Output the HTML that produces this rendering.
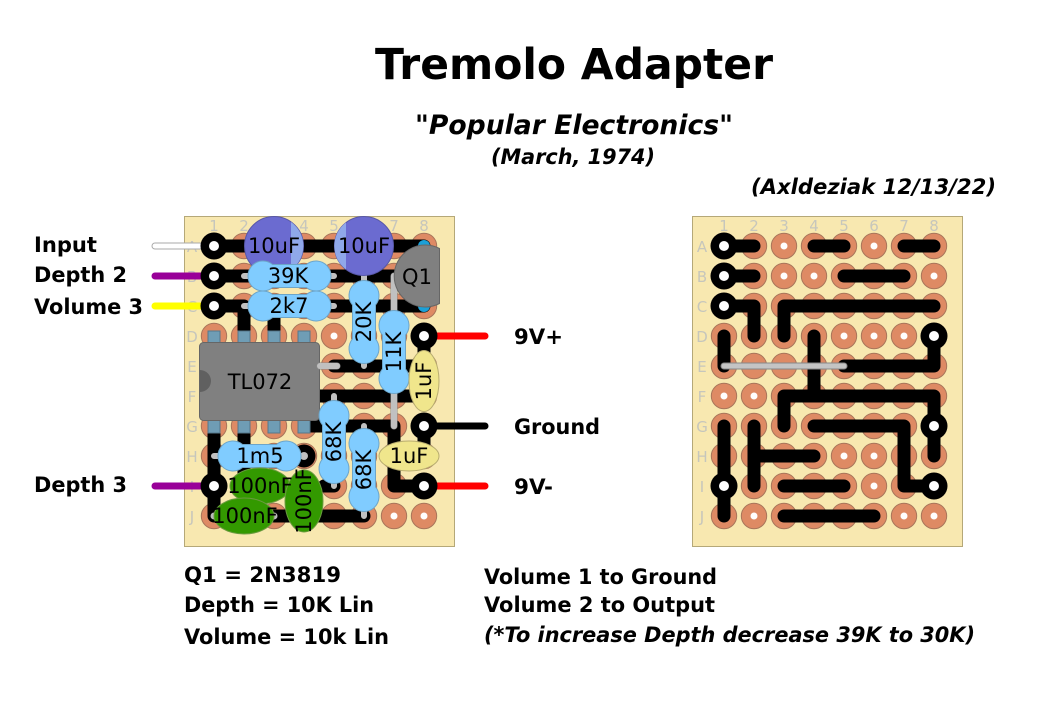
<!DOCTYPE html>
<html><head><meta charset="utf-8"><style>
html,body{margin:0;padding:0;background:#fff}
svg{display:block}
text{font-family:"DejaVu Sans",sans-serif;fill:#000}
.b{font-weight:bold;font-size:21px}
.bi{font-weight:bold;font-style:italic;font-size:21px}
.t{font-size:21px;text-anchor:middle}
text.g{font-size:15px;fill:#c6c6bc;text-anchor:middle}
.tr{fill:none;stroke:#000;stroke-width:13;stroke-linecap:round;stroke-linejoin:round}
.w{fill:none;stroke:#c0c0c0;stroke-width:6;stroke-linecap:round}
.wo{fill:none;stroke:#8a8a8a;stroke-width:7;stroke-linecap:round}
.r{fill:#80ccff;stroke:#6da5c8;stroke-width:1}
</style></head><body>
<svg width="1056" height="704" viewBox="0 0 1056 704" xmlns="http://www.w3.org/2000/svg">
<defs>
<pattern id="pads" x="199" y="231" width="30" height="30" patternUnits="userSpaceOnUse"><circle cx="15" cy="15" r="12.7" fill="#de8a64" stroke="#a8755a" stroke-width="1"/><circle cx="15" cy="15" r="3.5" fill="#fff"/></pattern>
<pattern id="pads2" x="709" y="231" width="30" height="30" patternUnits="userSpaceOnUse"><circle cx="15" cy="15" r="12.7" fill="#de8a64" stroke="#a8755a" stroke-width="1"/><circle cx="15" cy="15" r="3.5" fill="#fff"/></pattern>
<path id="res" class="r" d="M-16.900 -11.500H16.900A15 15 0 1 1 16.900 11.500H-16.900A15 15 0 1 1 -16.900 -11.500Z"/>
</defs>

<text x="375" y="79" font-size="42.500" font-weight="bold" textLength="398" lengthAdjust="spacingAndGlyphs">Tremolo Adapter</text>
<text x="415" y="134" font-size="27" font-weight="bold" textLength="318" lengthAdjust="spacingAndGlyphs">"<tspan font-style="italic">Popular Electronics</tspan>"</text>
<text x="491" y="164" class="bi" textLength="164" lengthAdjust="spacingAndGlyphs">(March, 1974)</text>
<text x="751" y="194" class="bi" textLength="245" lengthAdjust="spacingAndGlyphs">(Axldeziak 12/13/22)</text>

<!-- left board -->
<rect x="184.500" y="216.500" width="270" height="330" fill="#f8e8b0" stroke="#b5a878"/>
<text class="g" x="214" y="231">1</text><text class="g" x="244" y="231">2</text><text class="g" x="274" y="231">3</text><text class="g" x="304" y="231">4</text><text class="g" x="334" y="231">5</text><text class="g" x="364" y="231">6</text><text class="g" x="394" y="231">7</text><text class="g" x="424" y="231">8</text>
<text class="g" x="192" y="252">A</text><text class="g" x="192" y="282">B</text><text class="g" x="192" y="312">C</text><text class="g" x="192" y="342">D</text><text class="g" x="192" y="372">E</text><text class="g" x="192" y="402">F</text><text class="g" x="192" y="432">G</text><text class="g" x="192" y="462">H</text><text class="g" x="192" y="492">I</text><text class="g" x="192" y="522">J</text>
<rect x="199" y="231" width="240" height="300" fill="url(#pads)"/>
<path class="tr" d="M214 246H424M214 276H394M214 306H244V336M304 306H424M274 306V336M334 366H424M320 396H424M304 426H394V486H424M424 336V366M424 426V460M214 426V516M244 430V470M244 470V486H275M274 516H364M324 486H334"/>
<circle cx="424" cy="246" r="6" fill="#1ca0d8"/><circle cx="424" cy="306" r="6" fill="#1ca0d8"/>
<circle cx="304" cy="456" r="11.500" fill="#000"/><circle cx="304" cy="456" r="4" fill="#bbb"/>

<!-- IC -->
<path class="tr" d="M214 434V440M244 434V440M304 426H320"/>
<g fill="#6f9db5" stroke="#56788a" stroke-width="1">
<rect x="208" y="331" width="12" height="14"/><rect x="238" y="331" width="12" height="14"/><rect x="268" y="331" width="12" height="14"/><rect x="298" y="331" width="12" height="14"/>
<rect x="208" y="419" width="12" height="14"/><rect x="238" y="419" width="12" height="14"/><rect x="268" y="419" width="12" height="14"/><rect x="298" y="419" width="12" height="14"/></g>
<rect x="199.500" y="342.500" width="120" height="78" rx="4" fill="#808080" stroke="#666"/>
<path d="M200 370a11 11 0 0 1 0 22z" fill="#606060"/>
<text class="t" x="260" y="389">TL072</text>

<!-- gray wires / leads -->
<path class="wo" d="M394 276V426"/><path class="w" d="M394 276V426"/>
<path class="wo" d="M320 366H337"/><path class="w" d="M320 366H337"/>
<path class="w" style="stroke-width:6" d="M244 276H334M244 306H334M364 276V366M214 456H304M334 396V486M364 426V516"/>
<circle cx="214" cy="516" r="3.500" fill="#bbb"/><circle cx="274" cy="516" r="3.500" fill="#bbb"/>

<!-- caps -->
<circle cx="274" cy="246" r="29.500" fill="#6b6bd0" stroke="#5858a8"/>
<path d="M291 222A29.500 29.500 0 0 1 291 270Z" fill="#8fa8ea"/>
<text class="t" x="274" y="253">10uF</text>
<circle cx="364" cy="246" r="29.500" fill="#6b6bd0" stroke="#5858a8"/>
<path d="M346 222.500A29.500 29.500 0 0 0 346 269.500Z" fill="#8fa8ea"/>
<text class="t" x="364" y="253">10uF</text>

<!-- Q1 -->
<path d="M439.500 248.500A31 31 0 1 0 439.500 303.500Z" fill="#808080" stroke="#666"/>
<text class="t" x="417" y="284">Q1</text>

<!-- resistors -->
<use href="#res" transform="translate(289.500,276)"/>
<use href="#res" transform="translate(289.500,306)"/>
<use href="#res" transform="translate(259.500,456)"/>
<use href="#res" transform="translate(364,322) rotate(90)"/>
<use href="#res" transform="translate(394,352) rotate(90)"/>
<use href="#res" transform="translate(334,442) rotate(90)"/>
<use href="#res" transform="translate(364,470) rotate(90)"/>
<text class="t" x="288" y="283">39K</text>
<text class="t" x="289" y="313">2k7</text>
<text class="t" x="260" y="463">1m5</text>
<text class="t" transform="translate(371,322) rotate(-90)">20K</text>
<text class="t" transform="translate(401,352) rotate(-90)">11K</text>
<text class="t" transform="translate(341,442) rotate(-90)">68K</text>
<text class="t" transform="translate(371,470) rotate(-90)">68K</text>

<!-- film caps -->
<ellipse cx="424" cy="381" rx="15" ry="30.500" fill="#f0e68c" stroke="#b8ad70"/>
<text class="t" transform="translate(431,381) rotate(-90)">1uF</text>
<ellipse cx="409" cy="456" rx="30" ry="15" fill="#f0e68c" stroke="#b8ad70"/>
<text class="t" x="409" y="463">1uF</text>
<ellipse cx="260" cy="486" rx="30" ry="18" fill="#339900" stroke="#6b9a40"/>
<ellipse cx="304" cy="501" rx="19" ry="31" fill="#339900" stroke="#6b9a40"/>
<ellipse cx="244" cy="516" rx="30" ry="18" fill="#339900" stroke="#6b9a40"/>
<text class="t" x="260" y="493">100nF</text>
<text class="t" x="245" y="523">100nF</text>
<text class="t" transform="translate(311,501) rotate(-90)">100nF</text>

<!-- off-board wires -->
<path d="M155 246H214" stroke="#aaa" stroke-width="7" stroke-linecap="round"/>
<path d="M155 246H214" stroke="#fff" stroke-width="5" stroke-linecap="round"/>
<path d="M155 276H214M155 486H214" stroke="#990099" stroke-width="7" stroke-linecap="round"/>
<path d="M155 306H214" stroke="#ffff00" stroke-width="7" stroke-linecap="round"/>
<path d="M424 336H485M424 486H485" stroke="#ff0000" stroke-width="7" stroke-linecap="round"/>
<path d="M424 426H485" stroke="#000" stroke-width="7" stroke-linecap="round"/>
<g fill="#000"><circle cx="214" cy="246" r="13.500"/><circle cx="214" cy="276" r="13.500"/><circle cx="214" cy="306" r="13.500"/><circle cx="214" cy="486" r="13.500"/><circle cx="424" cy="336" r="13.500"/><circle cx="424" cy="426" r="13.500"/><circle cx="424" cy="486" r="13.500"/></g>
<g fill="#fff"><circle cx="214" cy="246" r="5"/><circle cx="214" cy="276" r="5"/><circle cx="214" cy="306" r="5"/><circle cx="214" cy="486" r="5"/><circle cx="424" cy="336" r="5"/><circle cx="424" cy="426" r="5"/><circle cx="424" cy="486" r="5"/></g>

<text class="b" x="34" y="252" textLength="63" lengthAdjust="spacingAndGlyphs">Input</text>
<text class="b" x="34" y="282" textLength="93" lengthAdjust="spacingAndGlyphs">Depth 2</text>
<text class="b" x="34" y="314" textLength="109" lengthAdjust="spacingAndGlyphs">Volume 3</text>
<text class="b" x="34" y="492" textLength="93" lengthAdjust="spacingAndGlyphs">Depth 3</text>
<text class="b" x="514" y="344" textLength="49" lengthAdjust="spacingAndGlyphs">9V+</text>
<text class="b" x="514" y="434" textLength="86" lengthAdjust="spacingAndGlyphs">Ground</text>
<text class="b" x="514" y="494" textLength="39" lengthAdjust="spacingAndGlyphs">9V-</text>

<!-- right board -->
<rect x="692.500" y="216.500" width="270" height="330" fill="#f8e8b0" stroke="#b5a878"/>
<text class="g" x="724" y="231">1</text><text class="g" x="754" y="231">2</text><text class="g" x="784" y="231">3</text><text class="g" x="814" y="231">4</text><text class="g" x="844" y="231">5</text><text class="g" x="874" y="231">6</text><text class="g" x="904" y="231">7</text><text class="g" x="934" y="231">8</text>
<text class="g" x="702" y="252">A</text><text class="g" x="702" y="282">B</text><text class="g" x="702" y="312">C</text><text class="g" x="702" y="342">D</text><text class="g" x="702" y="372">E</text><text class="g" x="702" y="402">F</text><text class="g" x="702" y="432">G</text><text class="g" x="702" y="462">H</text><text class="g" x="702" y="492">I</text><text class="g" x="702" y="522">J</text>
<rect x="709" y="231" width="240" height="300" fill="url(#pads2)"/>
<path class="tr" d="M724 246H754M814 246H844M904 246H934M724 276H754M844 276H904M724 306H754V336M784 336V306H934M724 336V366M814 336V396M844 366H934V336M784 426V396H934V456M814 426H904V486H934M754 456H814M754 426V486M724 426V516M784 486H844M784 516H874"/>
<path d="M724 366H844" stroke="#888" stroke-width="7" stroke-linecap="round"/>
<path d="M724 366H844" stroke="#c4c4c4" stroke-width="5" stroke-linecap="round"/>
<g fill="#000"><circle cx="724" cy="246" r="13.500"/><circle cx="724" cy="276" r="13.500"/><circle cx="724" cy="306" r="13.500"/><circle cx="724" cy="486" r="13.500"/><circle cx="934" cy="336" r="13.500"/><circle cx="934" cy="426" r="13.500"/><circle cx="934" cy="486" r="13.500"/></g>
<g fill="#fff"><circle cx="724" cy="246" r="5"/><circle cx="724" cy="276" r="5"/><circle cx="724" cy="306" r="5"/><circle cx="724" cy="486" r="5"/><circle cx="934" cy="336" r="5"/><circle cx="934" cy="426" r="5"/><circle cx="934" cy="486" r="5"/></g>

<text class="b" x="184" y="582" textLength="157" lengthAdjust="spacingAndGlyphs">Q1 = 2N3819</text>
<text class="b" x="184" y="612" textLength="190" lengthAdjust="spacingAndGlyphs">Depth = 10K Lin</text>
<text class="b" x="184" y="644" textLength="205" lengthAdjust="spacingAndGlyphs">Volume = 10k Lin</text>
<text class="b" x="484" y="584" textLength="233" lengthAdjust="spacingAndGlyphs">Volume 1 to Ground</text>
<text class="b" x="484" y="612" textLength="231" lengthAdjust="spacingAndGlyphs">Volume 2 to Output</text>
<text class="bi" x="484" y="642" textLength="491" lengthAdjust="spacingAndGlyphs">(*To increase Depth decrease 39K to 30K)</text>
</svg>
</body></html>
